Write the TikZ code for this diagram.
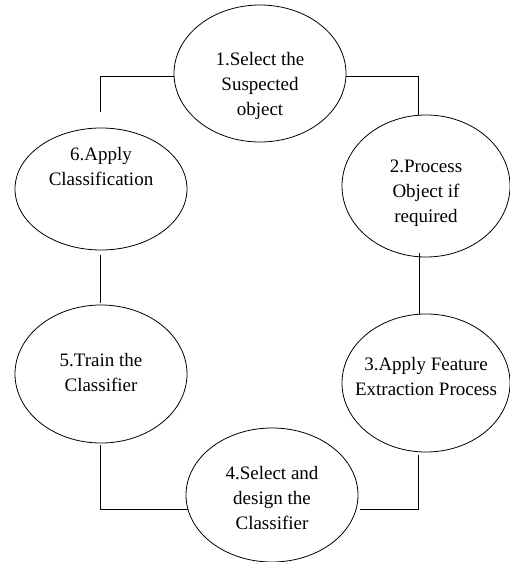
\documentclass[tikz,border=0pt]{standalone}
\usepackage{fontspec}
\setmainfont{Liberation Serif}
\usetikzlibrary{shapes.geometric}
\begin{document}
\begin{tikzpicture}[x=1pt,y=-1pt,
  oval/.style={draw,ellipse,line width=0.8pt,inner sep=0pt,outer sep=0pt},
  lbl/.style={align=center,inner sep=0pt,font=\fontsize{19}{25}\selectfont},
  conn/.style={draw,line width=0.8pt}]
\useasboundingbox[fill=white] (0,0) rectangle (510,562);
% ellipses
\node[oval,minimum width=172pt,minimum height=137pt] (e1) at (260,73.5) {};
\node[oval,minimum width=168pt,minimum height=142pt] (e2) at (426,186) {};
\node[oval,minimum width=168pt,minimum height=138pt] (e3) at (426,383) {};
\node[oval,minimum width=172pt,minimum height=134pt] (e4) at (272,495) {};
\node[oval,minimum width=172pt,minimum height=138pt] (e5) at (101,374) {};
\node[oval,minimum width=172pt,minimum height=122pt] (e6) at (101,189) {};
% labels
\node[lbl] (t1) at (260,85) {\strut 1.Select the\\\strut Suspected\\\strut object};
\node[lbl] (t2) at (426,192) {\strut 2.Process\\\strut Object if\\\strut required};
\node[lbl] (t3) at (426,377.5) {\strut 3.Apply Feature\\\strut Extraction Process};
\node[lbl] (t4) at (272,499.5) {\strut 4.Select and\\\strut design the\\\strut Classifier};
\node[lbl] (t5) at (101,373.5) {\strut 5.Train the\\\strut Classifier};
\node[lbl] (t6) at (101,167.5) {\strut 6.Apply\\\strut Classification};
% connectors
\draw[conn] (e1.182) -| ([xshift=-1pt,yshift=16pt]e6.north);
\draw[conn] (e1.358) -| ([xshift=-8pt]e2.north);
\draw[conn] ([xshift=-7pt,yshift=4pt]e2.south) -- ([xshift=-7pt]e3.north);
\draw[conn] ([xshift=-1pt,yshift=-5pt]e6.south) -- ([xshift=-1pt,yshift=2pt]e5.north);
\draw[conn] ([xshift=-1pt,yshift=-2pt]e5.south) |- (e4.190);
\draw[conn] ([xshift=-8pt,yshift=-3pt]e3.south) |- ([xshift=4pt]e4.350);
\end{tikzpicture}
\end{document}
